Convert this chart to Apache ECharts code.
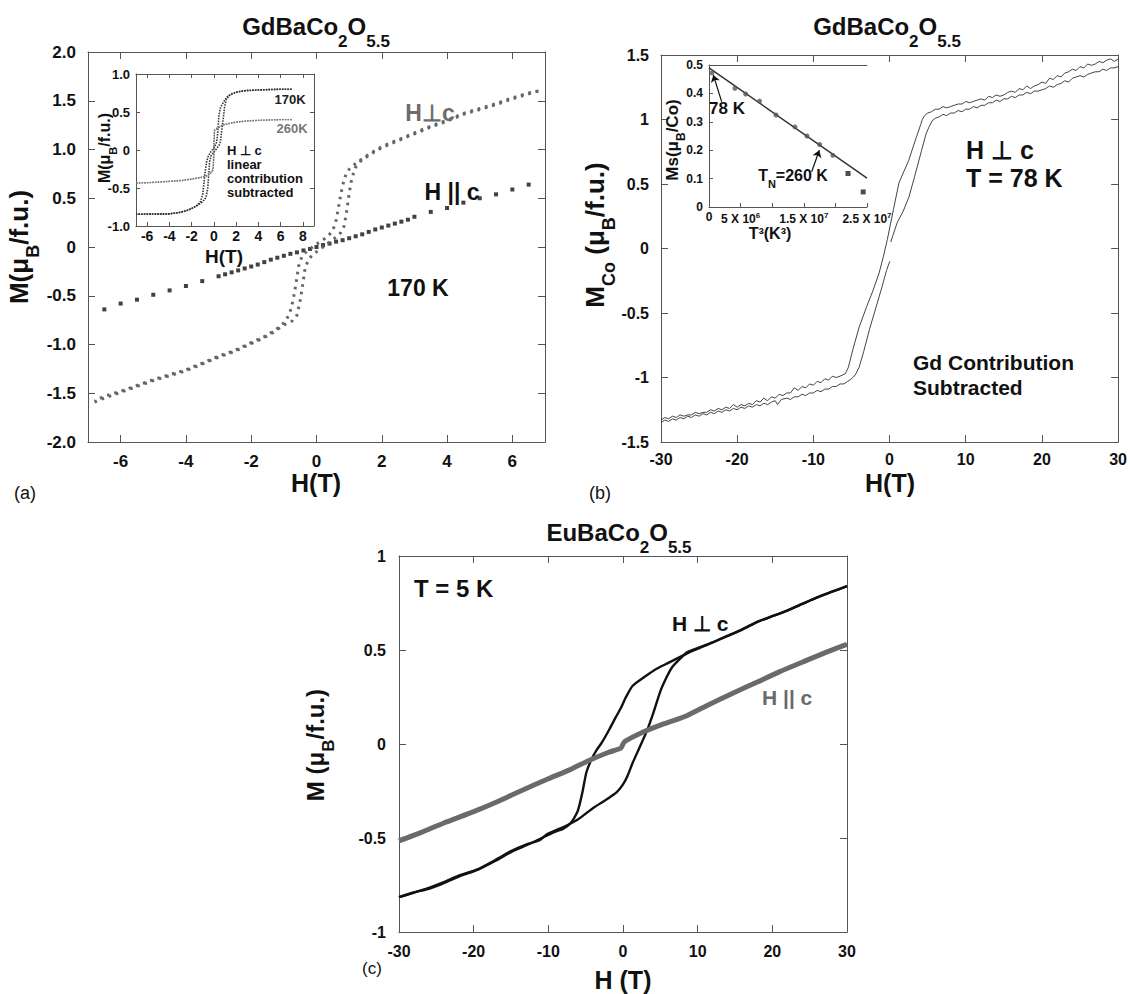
<!DOCTYPE html>
<html>
<head>
<meta charset="utf-8">
<script src="https://cdn.jsdelivr.net/npm/echarts@6/dist/echarts.min.js"></script>
<style>
  html, body { margin: 0; padding: 0; background: #fff; }
  #chart { width: 1130px; height: 994px; }
</style>
</head>
<body>
<div id="chart"></div>
<script>
const FF = "'Liberation Sans', Arial, sans-serif";

// ---- panel (a): GdBaCo2O5.5, 170 K ----
const hTicksA = [-6, -4, -2, 0, 2, 4, 6];
const perpDescA = [[6.8,1.6],[6.5,1.58],[6,1.53],[5.5,1.47],[5,1.42],[4.5,1.37],[4,1.3],[3.5,1.24],[3,1.17],[2.5,1.1],[2,1.03],[1.6,0.95],[1.3,0.88],[1.1,0.83],[0.95,0.78],[0.85,0.7],[0.75,0.55],[0.66,0.38],[0.58,0.24],[0.48,0.16],[0.35,0.11],[0.15,0.06],[0,0.03],[-0.2,-0.02],[-0.35,-0.06],[-0.45,-0.1],[-0.55,-0.2],[-0.63,-0.38],[-0.72,-0.55],[-0.82,-0.68],[-0.95,-0.76],[-1.1,-0.81],[-1.3,-0.86],[-1.6,-0.92],[-2,-0.98],[-2.5,-1.06],[-3,-1.12],[-3.5,-1.19],[-4,-1.26],[-4.5,-1.31],[-5,-1.36],[-5.5,-1.42],[-6,-1.48],[-6.5,-1.53],[-6.8,-1.58]];
const perpAscA = [[-6.8,-1.59],[-6.5,-1.55],[-6,-1.49],[-5.5,-1.43],[-5,-1.37],[-4.5,-1.32],[-4,-1.27],[-3.5,-1.2],[-3,-1.13],[-2.5,-1.07],[-2,-0.99],[-1.6,-0.93],[-1.3,-0.87],[-1,-0.8],[-0.75,-0.76],[-0.6,-0.7],[-0.5,-0.55],[-0.42,-0.38],[-0.35,-0.22],[-0.25,-0.13],[-0.1,-0.07],[0,-0.05],[0.2,0],[0.4,0.05],[0.6,0.1],[0.75,0.15],[0.85,0.22],[0.93,0.38],[1,0.55],[1.08,0.7],[1.18,0.81],[1.35,0.88],[1.6,0.94],[2,1.02],[2.5,1.09],[3,1.16],[3.5,1.23],[4,1.29],[4.5,1.36],[5,1.41],[5.5,1.46],[6,1.52],[6.5,1.57],[6.8,1.6]];
const paraA = [[-6.5,-0.64],[-6,-0.58],[-5.5,-0.54],[-5,-0.49],[-4.5,-0.445],[-4,-0.4],[-3.5,-0.35],[-3,-0.3],[-2.8,-0.28],[-2.6,-0.26],[-2.4,-0.24],[-2.2,-0.22],[-2,-0.2],[-1.8,-0.18],[-1.6,-0.155],[-1.4,-0.13],[-1.2,-0.11],[-1,-0.09],[-0.8,-0.07],[-0.6,-0.055],[-0.4,-0.035],[-0.2,-0.02],[0,0],[0.2,0.02],[0.4,0.035],[0.6,0.055],[0.8,0.07],[1,0.09],[1.2,0.11],[1.4,0.13],[1.6,0.155],[1.8,0.18],[2,0.2],[2.2,0.22],[2.4,0.24],[2.6,0.26],[2.8,0.28],[3,0.31],[3.5,0.36],[4,0.4],[4.5,0.455],[5,0.5],[5.5,0.54],[6,0.59],[6.5,0.64]];

// inset of (a): linear contribution subtracted
const hTicksInset = [-6, -4, -2, 0, 2, 4, 6, 8];
const desc170 = [[7,0.8],[6,0.8],[5,0.795],[4,0.79],[3,0.78],[2.5,0.775],[2,0.76],[1.6,0.74],[1.2,0.7],[0.9,0.64],[0.6,0.56],[0.45,0.45],[0.38,0.3],[0.3,0.15],[0.2,0.08],[0,0.03],[-0.3,-0.03],[-0.5,-0.08],[-0.65,-0.15],[-0.8,-0.3],[-0.9,-0.45],[-1,-0.58],[-1.2,-0.68],[-1.6,-0.74],[-2,-0.77],[-2.5,-0.8],[-3,-0.82],[-4,-0.84],[-5,-0.845],[-6,-0.84],[-7,-0.845]];
const asc170 = [[-7,-0.845],[-6,-0.845],[-5,-0.84],[-4,-0.84],[-3,-0.82],[-2.5,-0.8],[-2,-0.77],[-1.5,-0.73],[-1,-0.68],[-0.7,-0.62],[-0.55,-0.5],[-0.45,-0.3],[-0.38,-0.15],[-0.25,-0.08],[0,-0.03],[0.3,0.03],[0.5,0.07],[0.6,0.12],[0.7,0.25],[0.85,0.42],[0.95,0.55],[1.1,0.66],[1.4,0.72],[2,0.76],[2.5,0.775],[3,0.785],[4,0.79],[5,0.795],[6,0.8],[7,0.8]];
const desc260 = [[7,0.4],[6,0.4],[5,0.395],[4,0.39],[3,0.385],[2,0.37],[1.5,0.355],[1,0.34],[0.5,0.31],[0.2,0.28],[0.05,0.26],[0,0.1],[-0.05,-0.25],[-0.3,-0.3],[-0.7,-0.34],[-1.2,-0.36],[-2,-0.38],[-3,-0.4],[-4,-0.41],[-5,-0.42],[-6,-0.43],[-7,-0.435]];
const asc260 = [[-7,-0.435],[-5,-0.425],[-3,-0.405],[-2,-0.385],[-1.2,-0.365],[-0.6,-0.34],[-0.25,-0.3],[-0.1,-0.27],[0,-0.1],[0.05,0.25],[0.2,0.27],[0.5,0.3],[1,0.335],[1.5,0.35],[2,0.365],[3,0.38],[4,0.39],[5,0.395],[6,0.4],[7,0.4]];

// ---- panel (b): Gd contribution subtracted, 78 K ----
const descB = [[30,1.47],[29.5,1.45],[29,1.47],[28.5,1.46],[28,1.44],[27.5,1.45],[27,1.43],[26.5,1.42],[26,1.43],[25.5,1.4],[25,1.41],[24.5,1.38],[24,1.39],[23.5,1.37],[23,1.36],[22.5,1.33],[22,1.34],[21.5,1.31],[21,1.32],[20.5,1.28],[20,1.29],[19.5,1.27],[19,1.26],[18.5,1.24],[18,1.26],[17.5,1.23],[17,1.24],[16.5,1.21],[16,1.22],[15.5,1.21],[15,1.19],[14.5,1.18],[14,1.19],[13.5,1.17],[13,1.18],[12.5,1.15],[12,1.16],[11.5,1.15],[11,1.14],[10.5,1.13],[10,1.14],[9.5,1.12],[9,1.12],[8.5,1.11],[8,1.1],[7.5,1.09],[7,1.1],[6.5,1.08],[6,1.08],[5.5,1.06],[5,1.05],[4.6,1.03],[4.3,1],[4.08,0.96],[3.8,0.91],[3.5,0.86],[3,0.77],[2.5,0.68],[1.9,0.6],[1.24,0.51],[0.5,0.3],[-0.29,0.07],[-0.8,-0.06],[-1.37,-0.19],[-2.2,-0.33],[-3,-0.45],[-3.99,-0.61],[-4.8,-0.78],[-5.4,-0.92],[-5.8,-0.97],[-6.5,-0.99],[-7,-1],[-7.5,-0.99],[-8,-1.02],[-8.5,-1.01],[-9,-1.04],[-9.5,-1.03],[-10,-1.06],[-10.5,-1.05],[-11,-1.08],[-11.5,-1.07],[-12,-1.1],[-12.5,-1.08],[-13,-1.12],[-13.5,-1.12],[-14,-1.14],[-14.5,-1.13],[-15,-1.16],[-15.5,-1.15],[-16,-1.18],[-16.5,-1.16],[-17,-1.19],[-17.5,-1.18],[-18,-1.21],[-18.5,-1.2],[-19,-1.22],[-19.5,-1.21],[-20,-1.23],[-20.5,-1.21],[-21,-1.24],[-21.5,-1.23],[-22,-1.25],[-22.5,-1.24],[-23,-1.26],[-23.5,-1.25],[-24,-1.27],[-24.5,-1.27],[-25,-1.28],[-25.5,-1.27],[-26,-1.29],[-26.5,-1.29],[-27,-1.3],[-27.5,-1.29],[-28,-1.31],[-28.5,-1.3],[-29,-1.32],[-29.5,-1.31],[-30,-1.33]];
const ascB = [[-30,-1.35],[-29.5,-1.33],[-29,-1.34],[-28.5,-1.32],[-28,-1.33],[-27.5,-1.31],[-27,-1.32],[-26.5,-1.3],[-26,-1.31],[-25.5,-1.29],[-25,-1.3],[-24.5,-1.28],[-24,-1.29],[-23.5,-1.27],[-23,-1.28],[-22.5,-1.26],[-22,-1.27],[-21.5,-1.25],[-21,-1.26],[-20.5,-1.24],[-20,-1.25],[-19.5,-1.23],[-19,-1.24],[-18.5,-1.22],[-18,-1.23],[-17.5,-1.21],[-17,-1.22],[-16.5,-1.2],[-16,-1.21],[-15.5,-1.19],[-15,-1.18],[-14.7,-1.21],[-14.2,-1.17],[-13.5,-1.16],[-13,-1.17],[-12.5,-1.15],[-12,-1.15],[-11.5,-1.13],[-11,-1.14],[-10.5,-1.12],[-10,-1.12],[-9.5,-1.1],[-9,-1.11],[-8.5,-1.09],[-8,-1.09],[-7.5,-1.07],[-7,-1.07],[-6.5,-1.05],[-6,-1.05],[-5.5,-1.03],[-5,-1.01],[-4.5,-0.98],[-3.99,-0.92],[-3.4,-0.8],[-2.6,-0.62],[-1.8,-0.46],[-1,-0.3],[-0.4,-0.17],[0.03,-0.1],[0.1,null],[0.16,0.05],[1,0.2],[1.8,0.29],[2.55,0.4],[3.3,0.56],[4.2,0.76],[4.8,0.89],[5.16,0.94],[5.6,0.99],[6,1.01],[6.5,1.02],[7,1.04],[7.5,1.03],[8,1.05],[8.5,1.05],[9,1.07],[9.5,1.06],[10,1.08],[10.5,1.08],[11,1.1],[11.5,1.09],[12,1.11],[12.5,1.11],[13,1.13],[13.5,1.13],[14,1.15],[14.5,1.14],[15,1.16],[15.5,1.16],[16,1.18],[16.5,1.17],[17,1.19],[17.5,1.19],[18,1.21],[18.5,1.2],[19,1.22],[19.5,1.22],[20,1.23],[20.5,1.24],[21,1.26],[21.5,1.25],[22,1.27],[22.5,1.28],[23,1.3],[23.5,1.29],[24,1.32],[24.5,1.33],[25,1.34],[25.5,1.33],[26,1.35],[26.5,1.36],[27,1.37],[27.5,1.37],[28,1.39],[28.5,1.38],[29,1.4],[29.5,1.4],[30,1.41]];

// inset of (b): Ms vs T^3
const t3Labels = [0, 5e6, 1.5e7, 2.5e7];
const tCube = [4.7e5, 4.1e6, 5.8e6, 8.0e6, 1.06e7, 1.36e7, 1.55e7, 1.75e7, 1.96e7];
const msDots = [0.472, 0.418, 0.398, 0.373, 0.324, 0.282, 0.25, 0.22, 0.182];
const msSquares = [[2.2e7, 0.118], [2.44e7, 0.053]];
const msFit = [[0, 0.49], [2.5e7, 0.102]];

// ---- panel (c): EuBaCo2O5.5, 5 K ----
const perpDescC = [[30,0.84],[28,0.81],[26,0.78],[24,0.745],[22,0.71],[20,0.68],[18,0.65],[16,0.61],[14,0.575],[12,0.54],[10.5,0.515],[9,0.49],[8,0.47],[6,0.43],[4.5,0.4],[3,0.36],[1.3,0.31],[0.4,0.25],[-0.3,0.19],[-1,0.14],[-1.8,0.08],[-2.8,0.01],[-3.5,-0.03],[-4.2,-0.08],[-4.9,-0.15],[-5.4,-0.25],[-5.8,-0.32],[-6.1,-0.36],[-7,-0.42],[-8,-0.45],[-9.3,-0.47],[-11.1,-0.505],[-13,-0.54],[-15,-0.575],[-17,-0.62],[-19.4,-0.668],[-22,-0.705],[-24,-0.74],[-26,-0.77],[-28,-0.79],[-30,-0.815]];
const perpAscC = [[-30,-0.815],[-28,-0.79],[-26,-0.765],[-24,-0.735],[-22,-0.7],[-19.4,-0.665],[-17,-0.615],[-15,-0.57],[-13,-0.535],[-11.1,-0.51],[-10.2,-0.48],[-7.9,-0.44],[-6,-0.4],[-4,-0.34],[-2,-0.29],[-0.8,-0.255],[0,-0.215],[0.6,-0.17],[1.3,-0.1],[2.2,-0.02],[3.2,0.07],[4.1,0.17],[5,0.28],[5.9,0.36],[6.6,0.41],[7.8,0.46],[8.7,0.49],[10,0.51],[12,0.54],[14,0.575],[16,0.61],[18,0.65],[20,0.68],[22,0.71],[24,0.745],[26,0.78],[28,0.81],[30,0.84]];
const paraC = [[-30,-0.515],[-27,-0.47],[-24,-0.42],[-20,-0.36],[-17,-0.31],[-14,-0.255],[-10,-0.185],[-7,-0.135],[-4.7,-0.09],[-2,-0.045],[-0.3,-0.022],[0,0],[0.3,0.015],[2.2,0.055],[5,0.1],[8.2,0.145],[11,0.2],[14.7,0.27],[18,0.33],[21,0.385],[24,0.435],[27,0.485],[30,0.53]];

function makeAxis(grid, pos, min, max, interval, tickLen, label, customTicks) {
  const ax = {
    type: 'value', gridIndex: grid, position: pos, min: min, max: max,
    axisLine: { show: true, onZero: false, lineStyle: { color: '#555', width: 1 } },
    axisTick: { show: tickLen > 0, inside: true, length: tickLen, lineStyle: { color: '#555' } },
    axisLabel: label ? Object.assign({ fontFamily: FF, fontWeight: 'bold', color: '#111' }, label) : { show: false },
    splitLine: { show: false }
  };
  if (interval) ax.interval = interval;
  if (customTicks) ax.axisTick.customValues = customTicks;
  return ax;
}

const oneDec = v => (v === 0 ? '0' : v.toFixed(1));

function rs(size, color, extra) {
  return Object.assign({ fontFamily: FF, fontWeight: 'bold', fontSize: size, fill: color, color: color, verticalAlign: 'bottom' }, extra || {});
}

function txt(x, y, text, o) {
  o = o || {};
  return {
    type: 'text', x: x, y: y, z: 100, rotation: o.rot || 0, silent: true,
    style: {
      text: text, fontFamily: FF, fontWeight: o.weight || 'bold', fontSize: o.size || 20,
      fill: o.color || '#111', align: o.align || 'center', verticalAlign: 'middle', rich: o.rich
    }
  };
}

const titleRich = { m: rs(24, '#111', { padding: [0, 0, 11, 0] }), s: rs(17, '#111') };
const nameRich = size => ({ m: rs(size, '#111', { padding: [0, 0, Math.round(size * 0.38), 0] }), s: rs(Math.round(size * 0.7), '#111') });
const supRich = { n: rs(12, '#111', { color: '#111' }), p: rs(8, '#111', { padding: [0, 0, 6, 0] }) };

const t3Fmt = v => {
  if (v === 0) return '{n|0}';
  if (v === 5e6) return '{n|5 X 10}{p|6}';
  if (v === 1.5e7) return '{n|1.5 X 10}{p|7}';
  return '{n|2.5 X 10}{p|7}';
};

const chart = echarts.init(document.getElementById('chart'), null, { renderer: 'svg' });

const option = {
  backgroundColor: '#fff',
  animation: false,
  grid: [
    { left: 88, top: 52, width: 457, height: 390 },
    { left: 136, top: 74, width: 178, height: 152, show: true, backgroundColor: '#fff', borderWidth: 0, z: 5 },
    { left: 661, top: 55, width: 459, height: 387 },
    { left: 709, top: 65, width: 158, height: 142, show: true, backgroundColor: '#fff', borderWidth: 0, z: 5 },
    { left: 399, top: 556, width: 448, height: 376 }
  ],
  xAxis: [
    makeAxis(0, 'bottom', -7, 7, null, 7, { fontSize: 17, margin: 11, customValues: hTicksA }, hTicksA),
    makeAxis(0, 'top', -7, 7, null, 7, null, hTicksA),
    Object.assign(makeAxis(1, 'bottom', -7, 9, null, 4, { fontSize: 14, margin: 3, customValues: hTicksInset }, hTicksInset), { z: 6 }),
    Object.assign(makeAxis(1, 'top', -7, 9, null, 4, null, hTicksInset), { z: 6 }),
    makeAxis(2, 'bottom', -30, 30, 10, 7, { fontSize: 16, margin: 9 }),
    makeAxis(2, 'top', -30, 30, 10, 7, null),
    Object.assign(makeAxis(3, 'bottom', 0, 2.5e7, 5e6, 4, { fontSize: 12, margin: 4, customValues: t3Labels, formatter: t3Fmt, rich: supRich }), { z: 6 }),
    Object.assign(makeAxis(3, 'top', 0, 2.5e7, 5e6, 0, null), { z: 6 }),
    makeAxis(4, 'bottom', -30, 30, 10, 7, { fontSize: 16, margin: 11 }),
    makeAxis(4, 'top', -30, 30, 10, 7, null)
  ],
  yAxis: [
    makeAxis(0, 'left', -2, 2, 0.5, 7, { fontSize: 17, margin: 12, formatter: oneDec }),
    makeAxis(0, 'right', -2, 2, 0.5, 7, null),
    Object.assign(makeAxis(1, 'left', -1, 1, 0.5, 4, { fontSize: 13, margin: 6, formatter: oneDec }), { z: 6 }),
    Object.assign(makeAxis(1, 'right', -1, 1, 0.5, 4, null), { z: 6 }),
    makeAxis(2, 'left', -1.5, 1.5, 0.5, 7, { fontSize: 16, margin: 12 }),
    makeAxis(2, 'right', -1.5, 1.5, 0.5, 7, null),
    Object.assign(makeAxis(3, 'left', 0, 0.5, 0.1, 4, { fontSize: 12, margin: 6 }), { z: 6 }),
    makeAxis(4, 'left', -1, 1, 0.5, 7, { fontSize: 16, margin: 13 }),
    makeAxis(4, 'right', -1, 1, 0.5, 7, null)
  ],
  series: [
    // (a) main
    { type: 'line', xAxisIndex: 0, yAxisIndex: 0, data: perpDescA, showSymbol: false, silent: true,
      lineStyle: { color: '#666', width: 3, type: [2.6, 5], cap: 'butt' } },
    { type: 'line', xAxisIndex: 0, yAxisIndex: 0, data: perpAscA, showSymbol: false, silent: true,
      lineStyle: { color: '#666', width: 3, type: [2.6, 5], cap: 'butt' } },
    { type: 'scatter', xAxisIndex: 0, yAxisIndex: 0, data: paraA, symbol: 'rect', symbolSize: 4, silent: true,
      itemStyle: { color: '#111' } },
    // (a) inset
    { type: 'line', xAxisIndex: 2, yAxisIndex: 2, data: desc170, showSymbol: false, silent: true, z: 7,
      lineStyle: { color: '#333', width: 1.6, type: [1.5, 1.2] } },
    { type: 'line', xAxisIndex: 2, yAxisIndex: 2, data: asc170, showSymbol: false, silent: true, z: 7,
      lineStyle: { color: '#333', width: 1.6, type: [1.5, 1.2] } },
    { type: 'line', xAxisIndex: 2, yAxisIndex: 2, data: desc260, showSymbol: false, silent: true, z: 7,
      lineStyle: { color: '#777', width: 1.4, type: [1.5, 1.2] } },
    { type: 'line', xAxisIndex: 2, yAxisIndex: 2, data: asc260, showSymbol: false, silent: true, z: 7,
      lineStyle: { color: '#777', width: 1.4, type: [1.5, 1.2] } },
    // (b) main
    { type: 'line', xAxisIndex: 4, yAxisIndex: 4, data: descB, showSymbol: false, silent: true,
      lineStyle: { color: '#444', width: 1 } },
    { type: 'line', xAxisIndex: 4, yAxisIndex: 4, data: ascB, showSymbol: false, silent: true, connectNulls: false,
      lineStyle: { color: '#444', width: 1 } },
    // (b) inset
    { type: 'line', xAxisIndex: 6, yAxisIndex: 6, data: msFit, showSymbol: false, silent: true, z: 7,
      lineStyle: { color: '#333', width: 1.5 },
      markLine: {
        silent: true, symbol: ['none', 'arrow'], symbolSize: 7, label: { show: false },
        lineStyle: { color: '#111', width: 1.2, type: 'solid' },
        data: [
          [{ coord: [2.0e6, 0.371] }, { coord: [0.68e6, 0.465] }],
          [{ coord: [16.25e6, 0.124] }, { coord: [17.45e6, 0.2] }]
        ]
      } },
    { type: 'scatter', xAxisIndex: 6, yAxisIndex: 6, data: tCube.map((t, i) => [t, msDots[i]]), symbol: 'circle', symbolSize: 5, silent: true, z: 8,
      itemStyle: { color: '#555' } },
    { type: 'scatter', xAxisIndex: 6, yAxisIndex: 6, data: msSquares, symbol: 'rect', symbolSize: 5, silent: true, z: 8,
      itemStyle: { color: '#222' } },
    // (c)
    { type: 'line', xAxisIndex: 8, yAxisIndex: 7, data: perpDescC, showSymbol: false, silent: true, smooth: 0.2,
      lineStyle: { color: '#111', width: 2.4 } },
    { type: 'line', xAxisIndex: 8, yAxisIndex: 7, data: perpAscC, showSymbol: false, silent: true, smooth: 0.2,
      lineStyle: { color: '#111', width: 2.4 } },
    { type: 'line', xAxisIndex: 8, yAxisIndex: 7, data: paraC, showSymbol: false, silent: true, smooth: 0.2,
      lineStyle: { color: '#6a6a6a', width: 5 } }
  ],
  graphic: [
    // panel (a)
    txt(316, 32, '{m|GdBaCo}{s|2}{m|O}{s|5.5}', { rich: titleRich }),
    txt(24, 247, '{m|M(μ}{s|B}{m|/f.u.)}', { rot: Math.PI / 2, rich: nameRich(26) }),
    txt(316, 483, 'H(T)', { size: 25 }),
    txt(25, 493, '(a)', { size: 18, weight: 'normal' }),
    txt(430, 113, 'H⊥c', { size: 23, color: '#6c6c6c' }),
    txt(452, 192, 'H || c', { size: 23 }),
    txt(418, 288, '170 K', { size: 23 }),
    // inset (a)
    txt(107, 148, '{m|M(μ}{s|B}{m|/f.u.)}', { rot: Math.PI / 2, rich: nameRich(16) }),
    txt(224, 256, 'H(T)', { size: 19 }),
    txt(290, 99, '170K', { size: 13, color: '#222' }),
    txt(292, 128, '260K', { size: 13, color: '#777' }),
    txt(227, 150, 'H ⊥ c', { size: 13, align: 'left' }),
    txt(227, 164, 'linear', { size: 13, align: 'left' }),
    txt(227, 178, 'contribution', { size: 13, align: 'left' }),
    txt(227, 192, 'subtracted', { size: 13, align: 'left' }),
    // panel (b)
    txt(887, 32, '{m|GdBaCo}{s|2}{m|O}{s|5.5}', { rich: titleRich }),
    txt(600, 235, '{m|M}{s|Co}{m| (μ}{s|B}{m|/f.u.)}', { rot: Math.PI / 2, rich: nameRich(26) }),
    txt(890, 483, 'H(T)', { size: 25 }),
    txt(600, 493, '(b)', { size: 18, weight: 'normal' }),
    txt(966, 150, 'H ⊥ c', { size: 25, align: 'left' }),
    txt(966, 178, 'T = 78 K', { size: 25, align: 'left' }),
    txt(913, 362, 'Gd Contribution', { size: 21, align: 'left' }),
    txt(913, 387, 'Subtracted', { size: 21, align: 'left' }),
    // inset (b)
    txt(675, 140, '{m|Ms(μ}{s|B}{m|/Co)}', { rot: Math.PI / 2, rich: nameRich(17) }),
    txt(770, 233, 'T³(K³)', { size: 16 }),
    txt(727, 108, '78 K', { size: 17 }),
    txt(793, 178, '{m|T}{s|N}{m|=260 K}', { rich: nameRich(16) }),
    // panel (c)
    txt(619, 538, '{m|EuBaCo}{s|2}{m|O}{s|5.5}', { rich: titleRich }),
    txt(320, 745, '{m|M (μ}{s|B}{m|/f.u.)}', { rot: Math.PI / 2, rich: nameRich(24) }),
    txt(623, 980, 'H (T)', { size: 25 }),
    txt(372, 968, '(c)', { size: 17, weight: 'normal' }),
    txt(414, 588, 'T = 5 K', { size: 24, align: 'left' }),
    txt(672, 623, 'H ⊥ c', { size: 21, align: 'left' }),
    txt(762, 697, 'H || c', { size: 21, align: 'left', color: '#6a6a6a' })
  ]
};

chart.setOption(option);
</script>
</body>
</html>
